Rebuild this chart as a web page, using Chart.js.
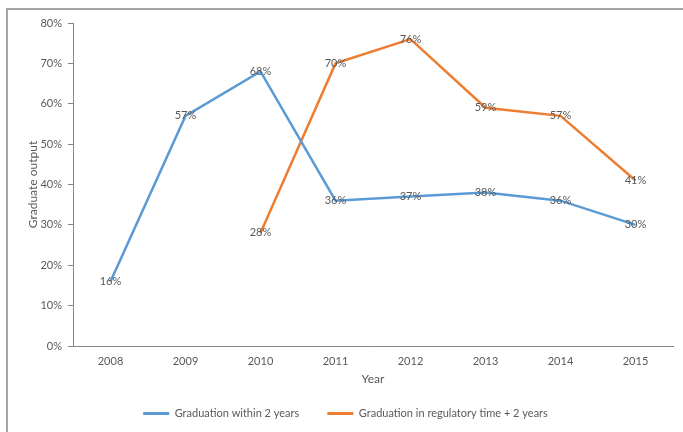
<!DOCTYPE html>
<html>
<head>
<meta charset="utf-8">
<script src="https://cdn.jsdelivr.net/npm/chart.js@4.4.0/dist/chart.umd.min.js"></script>
<style>
  html, body { margin: 0; padding: 0; background: #fff; }
  #wrap { position: relative; width: 683px; height: 432px; overflow: hidden; }
  #frame { position: absolute; left: 6px; top: 8px; right: -4px; bottom: -4px;
           border-left: 2px solid #a6a6a6; border-top: 2px solid #a6a6a6; }
  canvas { position: absolute; left: 0; top: 0; }
</style>
</head>
<body>
<div id="wrap">
  <div id="frame"></div>
  <canvas id="grafico" width="683" height="432"></canvas>
</div>
<script>
// anos y series (en %)
const years = ['2008', '2009', '2010', '2011', '2012', '2013', '2014', '2015'];
const within2 = [16, 57, 68, 36, 37, 38, 36, 30];
const regulatory2 = [null, null, 28, 70, 76, 59, 57, 41];
const seriesNames = ['Graduation within 2 years', 'Graduation in regulatory time + 2 years'];

const fuente = 'Lato, "Liberation Sans", sans-serif';
const gris = '#595959';

// etiquetas de valor encima de cada punto
const etiquetas = {
    id: 'etiquetas',
    afterDatasetsDraw(chart) {
        const ctx = chart.ctx;
        ctx.save();
        ctx.font = '11px ' + fuente;
        ctx.fillStyle = gris;
        ctx.textAlign = 'center';
        ctx.textBaseline = 'middle';
        chart.data.datasets.forEach((ds, i) => {
            const meta = chart.getDatasetMeta(i);
            meta.data.forEach((pt, j) => {
                const v = ds.data[j];
                if (v === null) return;
                ctx.fillText(v + '%', pt.x, pt.y);
            });
        });
        ctx.restore();
    }
};

const ctx = document.querySelector('#grafico').getContext('2d');
new Chart(ctx, {
    type: 'line',
    data: {
        labels: years,
        datasets: [{
            label: seriesNames[0],
            data: within2,
            borderColor: '#5B9BD5',
            backgroundColor: '#5B9BD5',
            borderWidth: 2.5,
            pointRadius: 0,
            tension: 0
        }, {
            label: seriesNames[1],
            data: regulatory2,
            borderColor: '#ED7D31',
            backgroundColor: '#ED7D31',
            borderWidth: 2.5,
            pointRadius: 0,
            tension: 0
        }]
    },
    options: {
        responsive: false,
        animation: false,
        layout: { padding: { left: 18, right: 10, top: 23, bottom: 3 } },
        plugins: {
            tooltip: { enabled: false },
            legend: {
                position: 'bottom',
                labels: {
                    font: { family: fuente, size: 11 },
                    color: gris,
                    boxWidth: 26,
                    boxHeight: 3,
                    padding: 28,
                    generateLabels: chart => Chart.defaults.plugins.legend.labels.generateLabels(chart)
                        .map(l => ({ ...l, lineWidth: 0 }))
                }
            }
        },
        scales: {
            x: {
                offset: true,
                grid: { display: false, drawTicks: false },
                border: { display: true, color: '#868686', width: 1 },
                ticks: { color: gris, font: { family: fuente, size: 11 }, padding: 9 },
                title: { display: true, text: 'Year', color: gris, font: { family: fuente, size: 12 }, padding: { top: 0, bottom: -6 } },
                afterFit: scale => { scale.height = 34; }
            },
            y: {
                min: 0,
                max: 80,
                grid: { drawOnChartArea: false, drawTicks: true, tickLength: 5, color: '#868686' },
                border: { display: true, color: '#868686', width: 1 },
                ticks: {
                    stepSize: 10,
                    color: gris,
                    font: { family: fuente, size: 11 },
                    padding: 6,
                    callback: v => v + '%'
                },
                title: { display: true, text: 'Graduate output', color: gris, font: { family: fuente, size: 12 }, padding: { top: 8, bottom: 0 } },
                afterFit: scale => { scale.width = 55; }
            }
        }
    },
    plugins: [etiquetas]
});
</script>
</body>
</html>
